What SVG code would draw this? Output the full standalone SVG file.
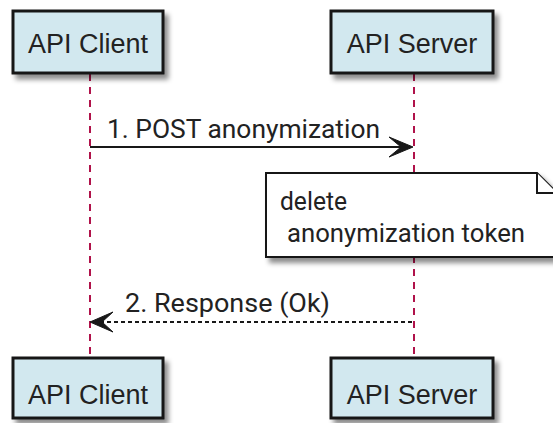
<svg xmlns="http://www.w3.org/2000/svg" width="553" height="423" viewBox="0 0 553 423">
  <defs>
    <filter id="shadow" x="-10%" y="-10%" width="130%" height="140%">
      <feDropShadow dx="4" dy="5" stdDeviation="2.5" flood-color="#000" flood-opacity="0.45"/>
    </filter>
  </defs>
  <style>
    .box { fill: #D2E8EF; stroke: #181818; stroke-width: 3; filter: url(#shadow); }
    .plabel { font-family: "Liberation Sans", Arial, sans-serif; font-size: 27px; fill: #222; text-anchor: middle; }
    .life { stroke: #B0124A; stroke-width: 2; stroke-dasharray: 7 6; fill: none; }
    .msg { font-family: Roboto, "Liberation Sans", sans-serif; font-size: 25px; fill: #222; }
    .line { stroke: #181818; stroke-width: 2; fill: none; }
    .dotted { stroke-dasharray: 4 3; }
    .head { fill: #181818; stroke: #181818; stroke-width: 1; }
    .note { fill: #FFFFFF; stroke: #181818; stroke-width: 2; filter: url(#shadow); }
    .notefold { fill: #FFFFFF; stroke: #181818; stroke-width: 2; }
  </style>

  <!-- lifelines -->
  <g id="lifelines">
    <line class="life" x1="90" y1="74" x2="90" y2="358"/>
    <line class="life" x1="414" y1="74" x2="414" y2="358"/>
  </g>

  <!-- participants (top) -->
  <g id="client-top">
    <rect class="box" x="13" y="11" width="150" height="62"/>
    <text class="plabel" x="88" y="53">API Client</text>
  </g>
  <g id="server-top">
    <rect class="box" x="331" y="11" width="162" height="62"/>
    <text class="plabel" x="412" y="53">API Server</text>
  </g>

  <!-- participants (bottom) -->
  <g id="client-bottom">
    <rect class="box" x="13" y="358" width="150" height="60"/>
    <text class="plabel" x="88" y="404">API Client</text>
  </g>
  <g id="server-bottom">
    <rect class="box" x="331" y="358" width="162" height="60"/>
    <text class="plabel" x="412" y="404">API Server</text>
  </g>

  <!-- messages -->
  <g id="connectors">
    <line class="line" x1="90" y1="147" x2="405" y2="147"/>
    <polygon class="head" points="413,147 389,137 401,147 389,157"/>
    <text class="msg" x="107" y="138" textLength="273" lengthAdjust="spacingAndGlyphs">1. POST anonymization</text>

    <line class="line dotted" x1="100" y1="322" x2="414" y2="322"/>
    <polygon class="head" points="90,322 113,312 102,322 113,332"/>
    <text class="msg" x="125" y="312" textLength="205" lengthAdjust="spacingAndGlyphs">2. Response (Ok)</text>
  </g>

  <!-- note on server -->
  <g id="note">
    <path class="note" d="M266,173 L537,173 L557,193 L557,257 L266,257 Z"/>
    <path class="notefold" d="M537,173 L537,193 L557,193"/>
    <text class="msg" x="280" y="210" textLength="67" lengthAdjust="spacingAndGlyphs">delete</text>
    <text class="msg" x="287" y="242" textLength="238" lengthAdjust="spacingAndGlyphs">anonymization token</text>
  </g>
</svg>
